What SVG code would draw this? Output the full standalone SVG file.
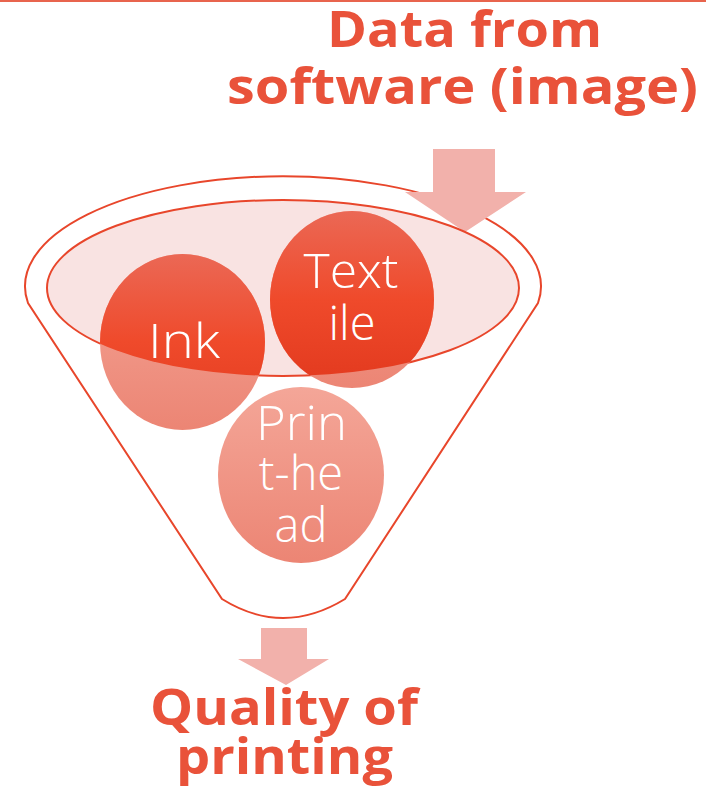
<svg xmlns="http://www.w3.org/2000/svg" width="706" height="793" viewBox="0 0 706 793">
  <style>
    .title { font-family: "Open Sans", "Liberation Sans", sans-serif; font-weight: 700; font-size: 50px; fill: #E9523A; text-anchor: middle; }
    .label { font-family: "Open Sans", "Liberation Sans", sans-serif; font-weight: 300; font-size: 47px; fill: #FFFFFF; text-anchor: middle; }
    .outline { fill: none; stroke: #E8462B; stroke-width: 2; }
    .arrow { fill: #F2B1AB; }
  </style>
  <defs>
    <linearGradient id="vivid" x1="0" y1="0" x2="0" y2="1">
      <stop offset="0" stop-color="#EB6855"/>
      <stop offset="0.5" stop-color="#EF4A2B"/>
      <stop offset="1" stop-color="#E2391E"/>
    </linearGradient>
    <linearGradient id="pale" x1="0" y1="0" x2="0" y2="1">
      <stop offset="0" stop-color="#F4A698"/>
      <stop offset="1" stop-color="#EC8574"/>
    </linearGradient>
    <clipPath id="mouth">
      <ellipse cx="283" cy="288" rx="236" ry="88"/>
    </clipPath>
  </defs>

  <!-- frame rule along the top edge -->
  <line x1="0" y1="1" x2="706" y2="1" stroke="#E8644D" stroke-width="2"/>

  <!-- funnel body -->
  <g id="funnel">
    <path class="outline" d="M28,303 A258,110 0 1 1 538,303 L345,599 Q283,637 222,599 Z"/>
  </g>

  <g id="connectors">
    <!-- input arrow into the funnel mouth -->
    <polygon class="arrow" points="433,149 495,149 495,192 526,192 465,232 405,192 433,192"/>
    <!-- output arrow below the spout -->
    <polygon class="arrow" points="261,628 307,628 307,659 329,659 286,685 238,659 261,659"/>
  </g>

  <!-- funnel mouth -->
  <g id="mouth-surface">
    <ellipse cx="283" cy="288" rx="236" ry="88" fill="#F9E3E2" stroke="#E8462B" stroke-width="2"/>
  </g>

  <g id="node-ink">
    <ellipse cx="182.5" cy="342" rx="82.5" ry="88" fill="url(#pale)"/>
    <ellipse cx="182.5" cy="342" rx="82.5" ry="88" fill="url(#vivid)" clip-path="url(#mouth)"/>
    <text class="label" x="184" y="358" textLength="72" lengthAdjust="spacingAndGlyphs">Ink</text>
  </g>

  <g id="node-textile">
    <ellipse cx="352" cy="299.5" rx="82" ry="88.5" fill="url(#pale)"/>
    <ellipse cx="352" cy="299.5" rx="82" ry="88.5" fill="url(#vivid)" clip-path="url(#mouth)"/>
    <text class="label" x="351" y="288" textLength="95" lengthAdjust="spacingAndGlyphs">Text</text>
    <text class="label" x="352" y="340">ile</text>
  </g>

  <g id="node-printhead">
    <ellipse cx="301" cy="475" rx="83" ry="88" fill="url(#pale)"/>
    <text class="label" x="301.5" y="440" textLength="91" lengthAdjust="spacingAndGlyphs">Prin</text>
    <text class="label" x="301" y="490">t-he</text>
    <text class="label" x="301" y="542">ad</text>
  </g>

  <g id="node-input">
    <text class="title" x="464.5" y="47" textLength="275" lengthAdjust="spacingAndGlyphs">Data from</text>
    <text class="title" x="462.5" y="104" textLength="471" lengthAdjust="spacingAndGlyphs">software (image)</text>
  </g>

  <g id="node-output">
    <text class="title" x="284" y="725" font-size="52" textLength="268" lengthAdjust="spacingAndGlyphs">Quality of</text>
    <text class="title" x="284.5" y="774" font-size="52" textLength="217" lengthAdjust="spacingAndGlyphs">printing</text>
  </g>
</svg>
